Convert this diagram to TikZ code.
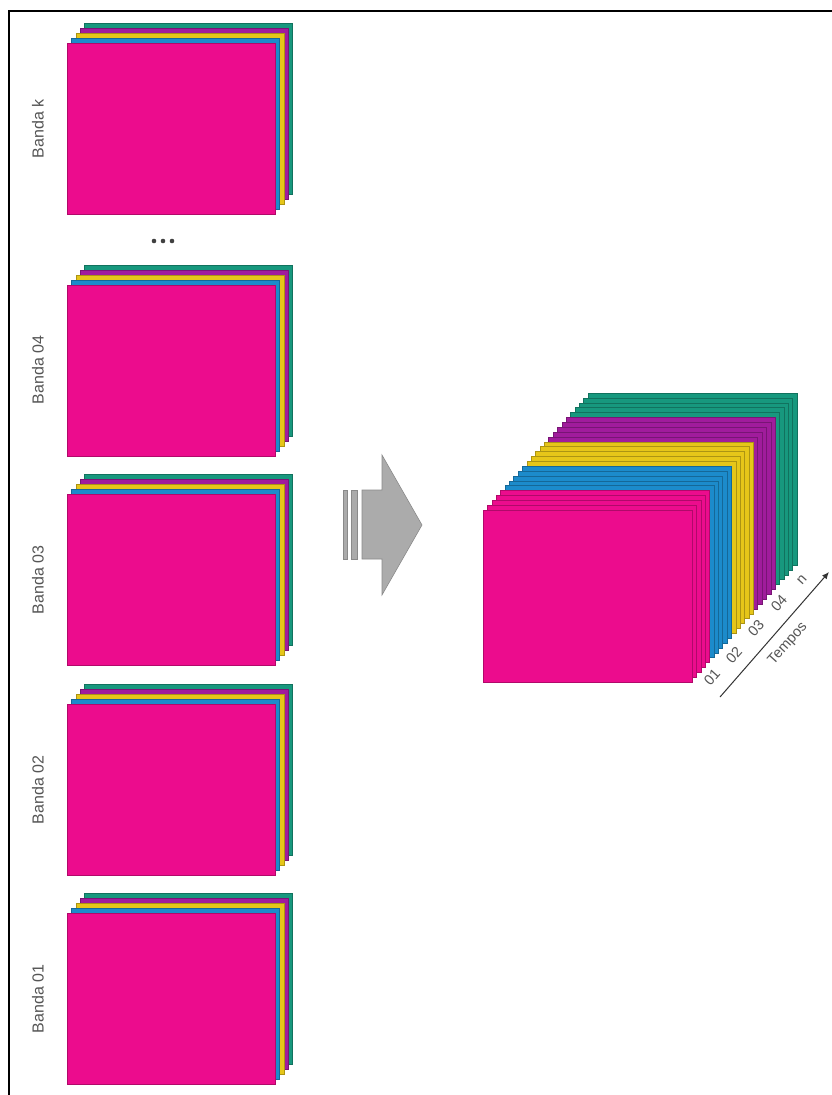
\documentclass[tikz,border=0pt]{standalone}
\usepackage{fontspec}
\setmainfont{Liberation Sans}
\usetikzlibrary{arrows.meta}
\definecolor{cpink}{HTML}{EC0C8D}
\definecolor{cblue}{HTML}{1C8BCB}
\definecolor{cyellow}{HTML}{E6C619}
\definecolor{cpurple}{HTML}{A01C9C}
\definecolor{cteal}{HTML}{17987E}
\definecolor{txtgray}{HTML}{555555}
\definecolor{arrgray}{HTML}{ABABAB}
\definecolor{arredge}{HTML}{8A8A8A}
\tikzset{
  layer/.style={fill=#1, draw=#1!75!black, line width=0.4pt},
  bandlabel/.style={text=txtgray, font=\fontsize{16}{19}\selectfont, rotate=90, inner sep=0pt},
  timelabel/.style={text=txtgray, font=\fontsize{14.5}{17}\selectfont, rotate=48, inner sep=0pt},
  bigarrow/.style={fill=arrgray, draw=arredge, line width=0.6pt},
  dotstyle/.style={fill=black!75, draw=none}
}
\newcommand\bandstack[1]{%
  \foreach \i/\c in {4/cteal,3/cpurple,2/cyellow,1/cblue,0/cpink} {
    \filldraw[layer=\c] ({67+4.4*\i},{#1-4.9*\i}) rectangle ++(208,171);
  }%
}
\begin{document}
\begin{tikzpicture}[x=1pt,y=-1pt]
\useasboundingbox (0,0) rectangle (832,1095);
\fill[white] (0,0) rectangle (832,1095);
\draw[line width=2pt] (9,1095) -- (9,11) -- (832,11);

% left stacks
\bandstack{43}
\bandstack{285}
\bandstack{494}
\bandstack{704}
\bandstack{913}

\node[bandlabel] (lk) at (38,129) {Banda k};
\node[bandlabel] (l4) at (38,370) {Banda 04};
\node[bandlabel] (l3) at (38,580) {Banda 03};
\node[bandlabel] (l2) at (38,790) {Banda 02};
\node[bandlabel] (l1) at (38,999) {Banda 01};

% dots
\fill[dotstyle] (154,241) circle (2.3);
\fill[dotstyle] (163,241) circle (2.3);
\fill[dotstyle] (172,241) circle (2.3);

% big arrow
\filldraw[bigarrow] (343,490) rectangle (347,559);
\filldraw[bigarrow] (351,490) rectangle (357,559);
\filldraw[bigarrow] (362,490) -- (382,490) -- (382,455) -- (422,525) -- (382,595) -- (382,559) -- (362,559) -- cycle;

% cube
\foreach \g/\c in {4/cteal,3/cpurple,2/cyellow,1/cblue,0/cpink} {
  \foreach \k in {4,3,2,1,0} {
    \pgfmathsetmacro\j{5*\g+\k}
    \filldraw[layer=\c] ({483+4.375*\j},{510-4.875*\j}) rectangle ++(209,172);
  }
}

\node[timelabel] (t1) at (712,677) {01};
\node[timelabel] (t2) at (734,655) {02};
\node[timelabel] (t3) at (756,628) {03};
\node[timelabel] (t4) at (779,603) {04};
\node[timelabel] (tn) at (802,580) {n};
\coordinate (ts) at (720,697);
\coordinate (te) at (829,572);
\draw[black!80, line width=1pt, -{Latex[length=7pt,width=6pt]}] (ts) -- (te);
\node[timelabel] (tempos) at (788,644) {Tempos};
\end{tikzpicture}
\end{document}
